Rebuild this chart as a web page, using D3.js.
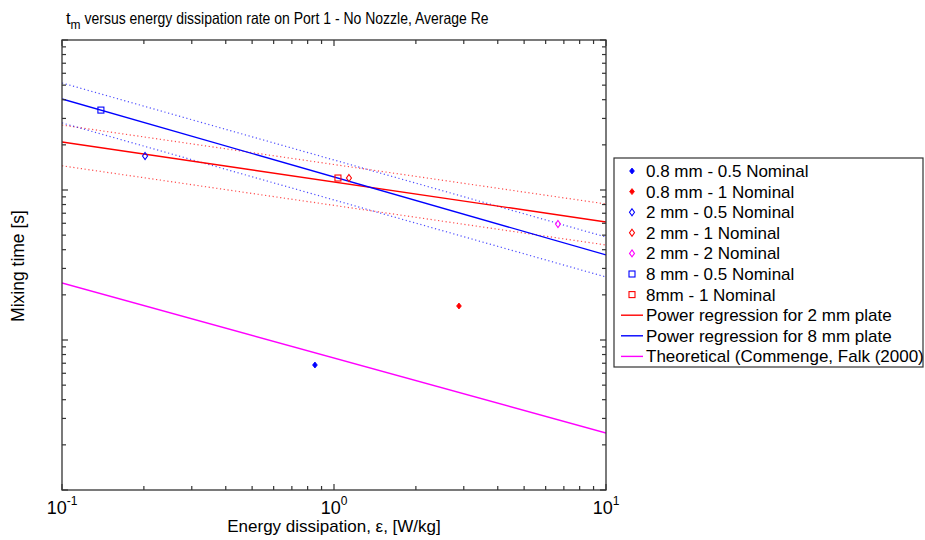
<!DOCTYPE html>
<html><head><meta charset="utf-8">
<script src="https://cdn.jsdelivr.net/npm/d3@7"></script>
<style>body{margin:0;background:#fff;} text{font-family:"Liberation Sans",Arial,sans-serif;}</style>
</head><body><svg id="c" width="925" height="540"></svg>
<script>
// ---- data ----
const pointSeries = ["0.8 mm - 0.5 Nominal","0.8 mm - 1 Nominal","2 mm - 0.5 Nominal","2 mm - 1 Nominal","2 mm - 2 Nominal","8 mm - 0.5 Nominal","8mm - 1 Nominal"];
const pointX = [0.851, 2.88, 0.202, 1.135, 6.66, 0.139, 1.034];
const pointY = [0.681, 1.685, 16.85, 12.02, 5.93, 34.1, 12.02];
const pointShape = ["filled","filled","diamond","diamond","diamond","square","square"];
const pointColor = ["#0000ff","#ff0000","#0000ff","#ff0000","#ff00ff","#0000ff","#ff0000"];

const lineX = [0.1, 10];
const reg2mm = [20.9, 6.12];
const reg2mmUpper = [27.1, 8.07];
const reg2mmLower = [14.5, 4.30];
const reg8mm = [40.4, 3.69];
const reg8mmUpper = [51.7, 4.86];
const reg8mmLower = [28.0, 2.63];
const theoretical = [2.40, 0.24];
const lineNames = ["Power regression for 2 mm plate","Power regression for 8 mm plate","Theoretical (Commenge, Falk (2000)"];

const xTickLabels = [["10","-1"],["10","0"],["10","1"]];

// ---- layout ----
const svg = d3.select("#c");
const L=62, R=606, T=40, B=490;
const x = d3.scaleLog().domain([0.1,10]).range([L,R]);
const y = d3.scaleLog().domain([0.1,100]).range([B,T]);
const axisColor = "#333";

svg.append("defs").append("clipPath").attr("id","clip").append("rect")
  .attr("x",L).attr("y",T).attr("width",R-L).attr("height",B-T);
const plot = svg.append("g").attr("clip-path","url(#clip)");

const line = d3.line().x(d=>x(d[0])).y(d=>y(d[1]));
function drawLine(vals,color,dotted){
  const p = plot.append("path").datum(lineX.map((v,i)=>[v,vals[i]]))
    .attr("d",line).attr("fill","none").attr("stroke",color);
  if(dotted){ p.attr("stroke-width",1.2).attr("stroke-dasharray","1.2,2.6").attr("opacity",0.7); }
  else p.attr("stroke-width",1.4);
}
drawLine(reg2mmUpper,"#ff0000",true);
drawLine(reg2mmLower,"#ff0000",true);
drawLine(reg8mmUpper,"#0000ff",true);
drawLine(reg8mmLower,"#0000ff",true);
drawLine(reg2mm,"#ff0000",false);
drawLine(reg8mm,"#0000ff",false);
drawLine(theoretical,"#ff00ff",false);

function drawMarker(g,shape,color,cx,cy){
  if(shape==="filled"){
    g.append("path").attr("d","M0,-3L2.4,0L0,3L-2.4,0Z").attr("transform",`translate(${cx},${cy})`)
      .attr("fill",color).attr("stroke",color).attr("stroke-width",0.8);
  } else if(shape==="diamond"){
    g.append("path").attr("d","M0,-3.5L2.5,0L0,3.5L-2.5,0Z").attr("transform",`translate(${cx},${cy})`)
      .attr("fill","none").attr("stroke",color).attr("stroke-width",1.1);
  } else {
    g.append("rect").attr("x",cx-3).attr("y",cy-3).attr("width",6).attr("height",6)
      .attr("fill","none").attr("stroke",color).attr("stroke-width",1.1);
  }
}
pointX.forEach((v,i)=>drawMarker(plot,pointShape[i],pointColor[i],x(v),y(pointY[i])));

// ---- axes box and ticks (inward, all sides) ----
const ax = svg.append("g");
ax.append("rect").attr("x",L).attr("y",T).attr("width",R-L).attr("height",B-T)
  .attr("fill","none").attr("stroke",axisColor).attr("stroke-width",1.3);
function ticksFor(scale){
  const [a,b]=scale.domain(); const out=[];
  for(let e=Math.round(Math.log10(a)); e<=Math.round(Math.log10(b)); e++){
    for(let k=1;k<=9;k++){ const v=k*Math.pow(10,e); if(v>=a*0.999 && v<=b*1.001) out.push({v,major:k===1}); }
  }
  return out;
}
ticksFor(x).forEach(t=>{
  const px=x(t.v), len=t.major?6:4;
  ax.append("line").attr("x1",px).attr("x2",px).attr("y1",B).attr("y2",B-len).attr("stroke",axisColor).attr("stroke-width",1.2);
  ax.append("line").attr("x1",px).attr("x2",px).attr("y1",T).attr("y2",T+len).attr("stroke",axisColor).attr("stroke-width",1.2);
});
ticksFor(y).forEach(t=>{
  const py=y(t.v), len=t.major?6:4;
  ax.append("line").attr("x1",L).attr("x2",L+len).attr("y1",py).attr("y2",py).attr("stroke",axisColor).attr("stroke-width",1.2);
  ax.append("line").attr("x1",R).attr("x2",R-len).attr("y1",py).attr("y2",py).attr("stroke",axisColor).attr("stroke-width",1.2);
});
[0.1,1,10].forEach((v,i)=>{
  const t = svg.append("text").attr("x",x(v)).attr("y",514).attr("text-anchor","middle").attr("font-size",18).attr("fill","#000");
  t.append("tspan").text(xTickLabels[i][0]);
  t.append("tspan").attr("dy",-9).attr("font-size",12).text(xTickLabels[i][1]);
});

// labels
svg.append("text").attr("x",334).attr("y",532).attr("text-anchor","middle").attr("font-size",17).attr("fill","#000")
  .text("Energy dissipation, ε, [W/kg]");
svg.append("text").attr("transform","translate(24,266) rotate(-90)").attr("text-anchor","middle").attr("font-size",17.5).attr("fill","#000")
  .text("Mixing time [s]");
const title = svg.append("text").attr("x",66).attr("y",24).attr("font-size",16.5).attr("fill","#000");
title.append("tspan").text("t");
title.append("tspan").attr("dy",5).attr("font-size",12).text("m");
title.append("tspan").attr("dy",-5).attr("textLength",408).attr("lengthAdjust","spacingAndGlyphs")
  .text(" versus energy dissipation rate on Port 1 - No Nozzle, Average Re");

// ---- legend ----
const lg = svg.append("g");
lg.append("rect").attr("x",614).attr("y",158).attr("width",309).attr("height",209)
  .attr("fill","#fff").attr("stroke",axisColor).attr("stroke-width",1.2);
const rowY = i => 171 + i*20.6;
pointSeries.forEach((name,i)=>{
  drawMarker(lg,pointShape[i],pointColor[i],632,rowY(i));
  lg.append("text").attr("x",646).attr("y",rowY(i)+6).attr("font-size",17).attr("fill","#000").text(name);
});
const lineColors=["#ff0000","#0000ff","#ff00ff"];
lineNames.forEach((name,j)=>{
  const i=pointSeries.length+j;
  lg.append("line").attr("x1",621).attr("x2",643).attr("y1",rowY(i)).attr("y2",rowY(i)).attr("stroke",lineColors[j]).attr("stroke-width",1.4);
  lg.append("text").attr("x",646).attr("y",rowY(i)+6).attr("font-size",17).attr("fill","#000").text(name);
});
</script></body></html>
